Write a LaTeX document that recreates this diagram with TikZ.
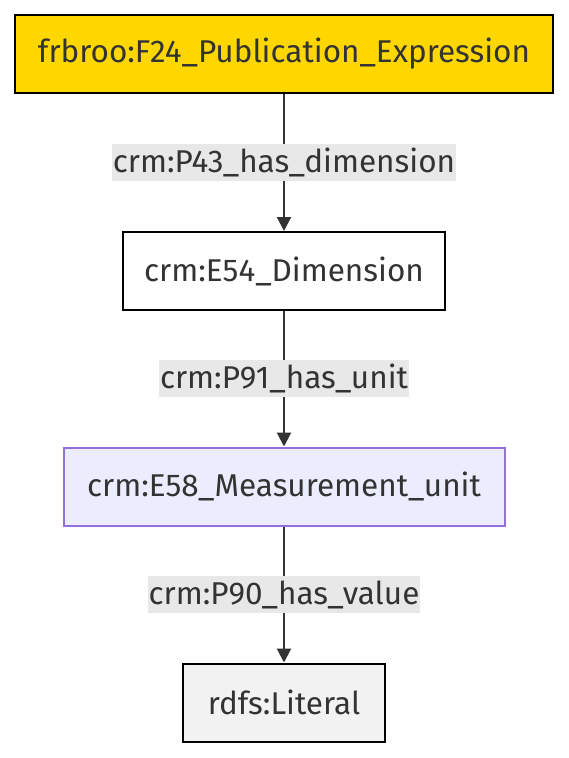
\documentclass[tikz,border=0pt]{standalone}
\usepackage{fontspec}
\setmainfont{Fira Sans}
\usetikzlibrary{arrows.meta}
\definecolor{txt}{HTML}{333333}
\definecolor{gold}{HTML}{FFD700}
\definecolor{lav}{HTML}{ECECFF}
\definecolor{lavb}{HTML}{9370DB}
\definecolor{litf}{HTML}{F2F2F2}
\definecolor{lblbg}{HTML}{E8E8E8}
\begin{document}
\begin{tikzpicture}[x=1pt,y=-1pt,
  box/.style={draw=black,line width=2pt,minimum height=78pt,inner sep=0pt,text=txt,font=\fontsize{31.5}{36}\selectfont},
  lbl/.style={fill=lblbg,inner xsep=1pt,inner ysep=0pt,minimum height=37pt,text=txt,font=\fontsize{31.5}{36}\selectfont},
  conn/.style={draw=txt,line width=2.2pt,-{Triangle[length=14pt,width=14pt]}}]
\useasboundingbox (0,0) rectangle (568,758);
\node[box,fill=gold,minimum width=538pt] (a) at (284,54) {frbroo:F24\_Publication\_Expression};
\node[box,fill=white,minimum width=322pt] (b) at (284,271) {crm:E54\_Dimension};
\node[box,fill=lav,draw=lavb,line width=2pt,minimum width=441pt] (c) at (284,486.5) {crm:E58\_Measurement\_unit};
\node[box,fill=litf,minimum width=202pt] (d) at (284,702.5) {rdfs:Literal};
\draw[conn] (a) -- (b) node[lbl,midway] (l1) {crm:P43\_has\_dimension};
\draw[conn] (b) -- (c) node[lbl,midway] (l2) {crm:P91\_has\_unit};
\draw[conn] (c) -- (d) node[lbl,midway] (l3) {crm:P90\_has\_value};
\end{tikzpicture}
\end{document}
